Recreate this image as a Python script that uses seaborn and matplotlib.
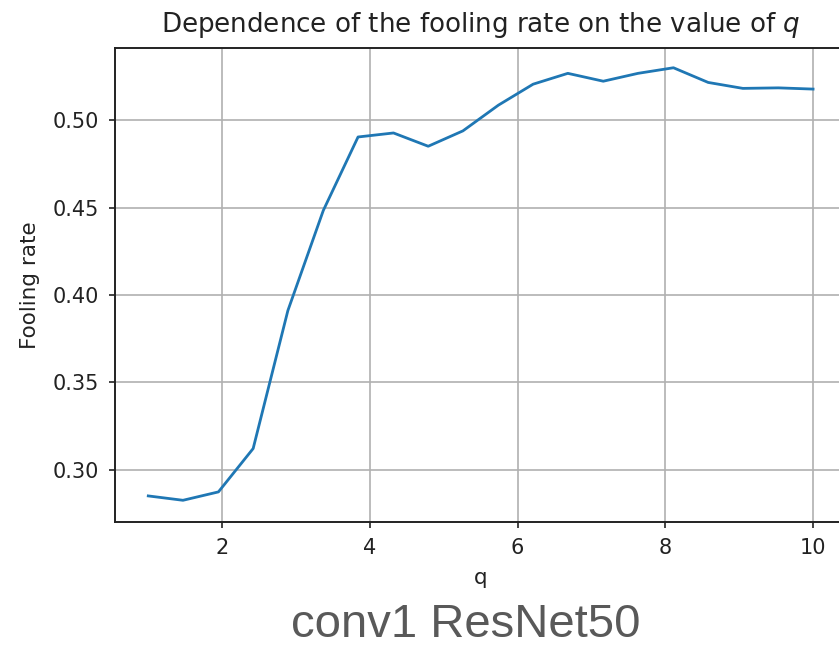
import matplotlib
matplotlib.use("Agg")
import matplotlib.pyplot as plt
import seaborn as sns
import pandas as pd

# q values and measured fooling rate (conv1 layer of ResNet50)
q_values = [1.00, 1.47, 1.95, 2.42, 2.89, 3.37, 3.84, 4.32, 4.79, 5.26,
            5.74, 6.21, 6.68, 7.16, 7.63, 8.11, 8.58, 9.05, 9.53, 10.00]
fooling_rate = [0.2851, 0.2826, 0.2874, 0.3122, 0.3911, 0.4484, 0.4904, 0.4927,
                0.4851, 0.4939, 0.5086, 0.5206, 0.5268, 0.5223, 0.5268, 0.5300,
                0.5216, 0.5182, 0.5185, 0.5178]
x_ticks = [2, 4, 6, 8, 10]
y_ticks = [0.30, 0.35, 0.40, 0.45, 0.50]

df = pd.DataFrame({"q": q_values, "rate": fooling_rate})

plt.rcParams["font.family"] = ["DejaVu Sans"]

fig = plt.figure(figsize=(8.39, 6.46), dpi=100)
ax = fig.add_axes([0.1371, 0.1920, 0.8716, 0.7337])

sns.lineplot(data=df, x="q", y="rate", ax=ax, color="#1f77b4", linewidth=2.0)

ax.set_xticks(x_ticks)
ax.set_yticks(y_ticks)
ax.set_yticklabels([f"{v:.2f}" for v in y_ticks])
ax.set_xlim(0.55, 10.45)
ax.set_ylim(0.2702, 0.5413)

ax.grid(True, color="#b0b0b0", linewidth=1.2)
ax.set_axisbelow(True)
ax.tick_params(axis="both", labelsize=15, length=4.5, width=1.2, pad=7,
               colors="#222222", labelcolor="#222222")
for sp in ax.spines.values():
    sp.set_linewidth(1.4)
    sp.set_color("#222222")

ax.set_xlabel("q", fontsize=15.5, color="#222222", labelpad=7)
ax.set_ylabel("Fooling rate", fontsize=15.5, color="#222222", labelpad=9)
ax.set_title("Dependence of the fooling rate on the value of $q$",
             fontsize=18.8, color="#222222", pad=11.5)

fig.text(0.5555, 0.0135, "conv1 ResNet50", ha="center", va="baseline",
         fontsize=34, color="#595959", family="Liberation Sans")

fig.savefig("out.png", dpi=100)
